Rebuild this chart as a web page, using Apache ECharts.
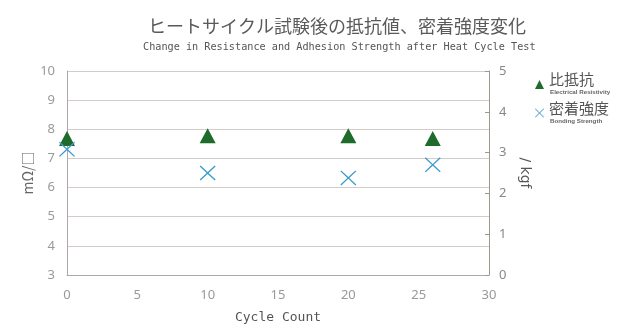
<!DOCTYPE html>
<html><head><meta charset="utf-8">
<script src="https://cdn.jsdelivr.net/npm/echarts@6/dist/echarts.min.js"></script>
<style>html,body{margin:0;padding:0;background:#fff}#c{width:622px;height:324px}</style>
</head><body><div id="c"></div>
<script>
const titleText = "ヒートサイクル試験後の抵抗値、密着強度変化";
const subtitleText = "Change in Resistance and Adhesion Strength after Heat Cycle Test";
const xName = "Cycle Count";
const leftName = "mΩ/□";
const rightName = "/ kgf";
const cycles = [0, 10, 20, 26];
const resistivity = [7.68, 7.78, 7.78, 7.68];
const bonding = [3.08, 2.50, 2.38, 2.70];
const seriesNames = ["比抵抗", "密着強度"];
const seriesSubNames = ["Electrical Resistivity", "Bonding Strength"];

const xPath = 'path://M0,6 L6,0 L50,44 L94,0 L100,6 L56,50 L100,94 L94,100 L50,56 L6,100 L0,94 L44,50 Z';
const chart = echarts.init(document.getElementById('c'), null, {renderer: 'canvas'});
chart.setOption({
  animation: false,
  backgroundColor: '#fff',
  title: [
    {text: titleText, left: 143, top: 12, textStyle: {fontFamily: 'Noto Sans CJK JP', fontSize: 18, fontWeight: 'normal', color: '#5a5a5a'}},
    {text: subtitleText, left: 138, top: 37, textStyle: {fontFamily: 'DejaVu Sans Mono', fontSize: 10.2, fontWeight: 'normal', color: '#555'}}
  ],
  legend: {
    orient: 'vertical', left: 535, top: 72, padding: 0, itemGap: 5, itemWidth: 9, itemHeight: 9,
    data: [{name: seriesNames[0], icon: 'triangle'}, {name: seriesNames[1], icon: xPath}],
    formatter: function (n) {
      const i = seriesNames.indexOf(n);
      return '{a|' + n + '}\n{b|' + seriesSubNames[i] + '}';
    },
    textStyle: {
      rich: {
        a: {fontFamily: 'Noto Sans CJK JP', fontSize: 15, color: '#555', lineHeight: 16},
        b: {fontFamily: 'Liberation Sans', fontSize: 6.2, fontWeight: 'bold', color: '#666', lineHeight: 10, padding: [0, 0, 0, 1]}
      }
    }
  },
  grid: {left: 67, right: 133, top: 71, bottom: 49, outerBoundsMode: 'none', containLabel: false},
  xAxis: {
    type: 'value', min: 0, max: 30, interval: 5,
    name: xName, nameLocation: 'middle', nameGap: 36, nameMoveOverlap: false,
    nameTextStyle: {fontFamily: 'DejaVu Sans Mono', fontSize: 13, color: '#555'},
    axisLine: {show: true, lineStyle: {color: '#b0a8a4'}},
    axisTick: {show: false},
    splitLine: {show: false},
    axisLabel: {color: '#999', fontSize: 13, fontFamily: 'Noto Sans', margin: 14}
  },
  yAxis: [
    {
      type: 'value', min: 3, max: 10, interval: 1,
      name: leftName, nameLocation: 'middle', nameGap: 32, nameRotate: 90, nameMoveOverlap: false,
      nameTextStyle: {fontFamily: 'Noto Sans CJK JP', fontSize: 14, color: '#666'},
      axisLine: {show: true, lineStyle: {color: '#b0a8a4'}},
      axisTick: {show: false},
      splitLine: {show: true, lineStyle: {color: '#d4ccc8', width: 1}},
      axisLabel: {color: '#999', fontSize: 13, fontFamily: 'Noto Sans', margin: 12}
    },
    {
      type: 'value', min: 0, max: 5, interval: 1, position: 'right',
      name: rightName, nameLocation: 'middle', nameGap: 28, nameRotate: -90,
      nameTextStyle: {fontFamily: 'DejaVu Sans', fontSize: 14, color: '#555'},
      axisLine: {show: true, lineStyle: {color: '#a09690'}},
      axisTick: {show: true, inside: true, length: 4, lineStyle: {color: '#a09690'}},
      splitLine: {show: false},
      axisLabel: {color: '#888', fontSize: 13, fontFamily: 'Noto Sans', margin: 10}
    }
  ],
  series: [
    {
      name: seriesNames[0], type: 'scatter', yAxisIndex: 0, symbol: 'triangle', symbolSize: [16, 15],
      itemStyle: {color: '#1f6b2c', opacity: 1},
      data: cycles.map((c, i) => [c, resistivity[i]])
    },
    {
      name: seriesNames[1], type: 'scatter', yAxisIndex: 1, symbol: xPath, symbolSize: [16, 15],
      itemStyle: {color: '#3a9ccc', opacity: 1},
      data: cycles.map((c, i) => [c, bonding[i]])
    }
  ]
});
</script></body></html>
